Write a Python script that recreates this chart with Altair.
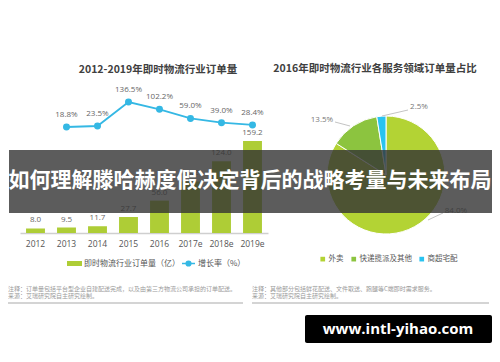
import altair as alt
import pandas as pd

# ---------------- data ----------------
years = ["2012", "2013", "2014", "2015", "2016", "2017e", "2018e", "2019e"]
orders = [8.0, 9.5, 11.7, 27.7, 56.0, 89.2, 124.0, 159.2]
growth_years = ["2013", "2014", "2015", "2016", "2017e", "2018e", "2019e"]
growth = [18.8, 23.5, 136.5, 102.2, 59.0, 39.0, 28.4]
pie_names = ["外卖", "快递揽派及其他", "商超宅配"]
pie_values = [84.0, 13.5, 2.5]
pie_label_text = ["84.0%", "13.5%", "2.5%"]

left_title = "2012-2019年即时物流行业订单量"
right_title = "2016年即时物流行业各服务领域订单量占比"
bar_series = "即时物流行业订单量（亿）"
line_series = "增长率（%）"
banner_text = "如何理解滕哈赫度假决定背后的战略考量与未来布局"
watermark_text = "www.intl-yihao.com"
left_notes = ["注释：订单量包括平台型企业自建配送完成，以及由第三方物流公司承担的订单配送。",
              "来源：艾瑞研究院自主研究绘制。"]
right_notes = ["注释：其他部分包括鲜花配送、文件取送、跑腿等C端即时需求服务。",
               "来源：艾瑞研究院自主研究绘制。"]

# ---------------- styles ----------------
CJK = "Noto Sans CJK SC"
NUM = "Open Sans"
BAR_C = "#aecd36"
LINE_C = "#35b8e4"
PIE_C = ["#b3d334", "#8cc43f", "#29c3f0"]
W, H = 484, 346

bar_df = pd.DataFrame({"year": years, "orders": orders, "series": [bar_series] * len(years)})
line_df = pd.DataFrame({"year": growth_years, "growth": growth, "series": [line_series] * len(growth_years)})
pie_df = pd.DataFrame({"name": pie_names, "value": pie_values, "idx": list(range(len(pie_names)))})

x_enc = alt.X(
    "year:N",
    scale=alt.Scale(domain=years, range=[12, 260], paddingInner=0.39, paddingOuter=0.195),
    axis=alt.Axis(title=None, orient="bottom", offset=-121, domainColor="#cfcfcf", domainWidth=1.5,
                  ticks=False, labelFont=NUM, labelFontSize=8.5, labelColor="#555555",
                  labelPadding=6, labelAngle=0, grid=False),
)
y_bar = alt.Y("orders:Q", scale=alt.Scale(domain=[0, 159.2], range=[225, 133], nice=False), axis=None)
y_line = alt.Y("growth:Q", scale=alt.Scale(domain=[0, 136.5], range=[123, 94], nice=False), axis=None)

bars = alt.Chart(bar_df).mark_bar().encode(
    x=x_enc, y=y_bar,
    color=alt.Color("series:N", scale=alt.Scale(domain=[bar_series], range=[BAR_C]),
                    legend=alt.Legend(title=None, orient="none", legendX=59, legendY=248,
                                      symbolType="M-1,-0.33H1V0.33H-1Z", symbolSize=225,
                                      symbolStrokeWidth=0, labelFont=CJK, labelFontSize=8,
                                      labelColor="#555555", labelOffset=2, padding=0)),
)
bar_text = alt.Chart(bar_df).mark_text(dy=-8, fontSize=8, font=NUM, color="#666666",
                                       baseline="middle").encode(
    x=x_enc, y=y_bar, text=alt.Text("orders:Q", format=".1f"))

line = alt.Chart(line_df).mark_line(color=LINE_C, strokeWidth=1.8).encode(x=x_enc, y=y_line)
points = alt.Chart(line_df).mark_point(filled=True, size=30, opacity=1, stroke=LINE_C,
                                       strokeWidth=1.5).encode(
    x=x_enc, y=y_line,
    color=alt.Color("series:N", scale=alt.Scale(domain=[line_series], range=[LINE_C]),
                    legend=alt.Legend(title=None, orient="none", legendX=173, legendY=248,
                                      symbolType="M-1,0H1M-0.36,0A0.36,0.36,0,1,0,0.36,0A0.36,0.36,0,1,0,-0.36,0Z",
                                      symbolSize=169, symbolStrokeColor=LINE_C, symbolFillColor=LINE_C,
                                      symbolStrokeWidth=1.5, labelFont=CJK, labelFontSize=8,
                                      labelColor="#555555", labelOffset=2, padding=0)),
)
line_text = alt.Chart(line_df).transform_calculate(
    lab="format(datum.growth, '.1f') + '%'"
).mark_text(dy=-12, fontSize=8, font=NUM, color="#666666", baseline="middle").encode(
    x=x_enc, y=y_line, text="lab:N")

pie = alt.Chart(pie_df).mark_arc(outerRadius=59, stroke="white", strokeWidth=1).encode(
    theta=alt.Theta("value:Q", stack=True),
    order=alt.Order("idx:Q"),
    color=alt.Color("name:N", scale=alt.Scale(domain=pie_names, range=PIE_C),
                    legend=alt.Legend(title=None, orient="none", direction="horizontal",
                                      legendX=311, legendY=247, symbolType="square", symbolSize=22,
                                      symbolStrokeWidth=0, labelFont=CJK, labelFontSize=7.5,
                                      labelColor="#555555", labelOffset=2, columnPadding=6,
                                      padding=0)),
    x=alt.value(378), y=alt.value(167),
)


def txt(s, x, y, size, color, font=CJK, weight="normal", align="center"):
    return alt.Chart(pd.DataFrame({"t": [s]})).mark_text(
        fontSize=size, color=color, font=font, fontWeight=weight, align=align, baseline="middle"
    ).encode(text="t:N", x=alt.value(x), y=alt.value(y))


def seg(x1, y1, x2, y2, color, width):
    return alt.Chart(pd.DataFrame({"a": [0]})).mark_rule(color=color, strokeWidth=width).encode(
        x=alt.value(x1), y=alt.value(y1), x2=alt.value(x2), y2=alt.value(y2))


def box(x1, y1, x2, y2, color, opacity=1.0, radius=0):
    return alt.Chart(pd.DataFrame({"a": [0]})).mark_rect(
        color=color, opacity=opacity, cornerRadius=radius
    ).encode(x=alt.value(x1), y=alt.value(y1), x2=alt.value(x2), y2=alt.value(y2))


titles = [
    txt(left_title, 150, 62, 10.5, "#404040", weight="bold"),
    txt(right_title, 367, 61, 10.5, "#404040", weight="bold"),
]
pie_ann = [
    seg(420, 212, 435, 205, "#c4c4c4", 1), txt(pie_label_text[0], 448, 203, 8, "#777777", font=NUM),
    seg(327, 114, 342, 118, "#c4c4c4", 1), txt(pie_label_text[1], 314, 112, 8, "#777777", font=NUM),
    seg(374, 108, 400, 102, "#c4c4c4", 1), txt(pie_label_text[2], 411, 99, 8, "#777777", font=NUM),
]
notes = [
    txt(left_notes[0], 0, 281, 6, "#9a9a9a", align="left"),
    txt(left_notes[1], 0, 288, 6, "#9a9a9a", align="left"),
    txt(right_notes[0], 244, 281, 6, "#9a9a9a", align="left"),
    txt(right_notes[1], 244, 288, 6, "#9a9a9a", align="left"),
    seg(0, 295, 235, 295, "#d4d4d4", 2),
    seg(244, 295, 481, 295, "#d4d4d4", 2),
]
overlay = [
    box(1, 142, 484, 205, "#333333", opacity=0.8),
    txt(banner_text, 242, 173, 21, "white", weight="bold"),
    box(297, 307, 484, 335, "black", radius=2),
    txt(watermark_text, 390, 321, 15, "white", font=NUM, weight="bold"),
]

chart = alt.layer(
    bars, bar_text, line, points, line_text, pie, *pie_ann, *titles, *notes, *overlay
).resolve_scale(
    y="independent", color="independent"
).properties(
    width=W, height=H, padding=0, autosize=alt.AutoSizeParams(type="none"),
    background="white"
).configure_view(stroke=None)

chart.save("out.html", embed_options={"renderer": "svg", "actions": False})
